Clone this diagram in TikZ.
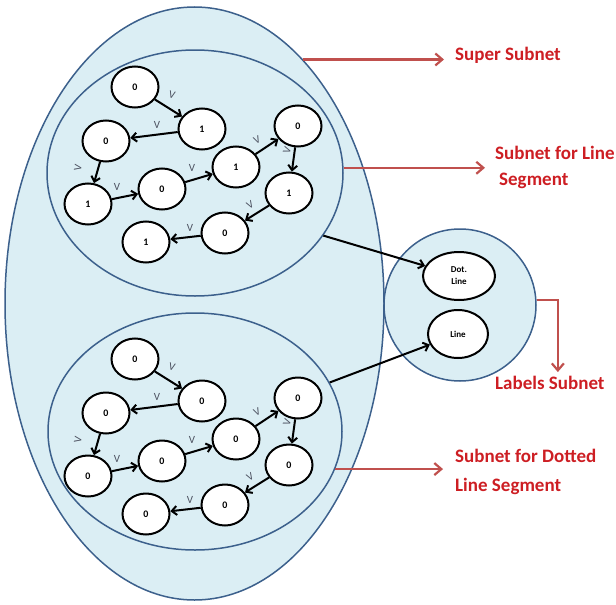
\documentclass[tikz,border=0pt]{standalone}
\usepackage{fontspec}
\setmainfont{Carlito}
\usetikzlibrary{arrows.meta,shapes.geometric}
\definecolor{netfill}{RGB}{219,238,244}
\definecolor{netedge}{RGB}{60,96,140}
\definecolor{notered}{RGB}{205,30,35}
\definecolor{notearrow}{RGB}{192,80,77}
\definecolor{vgray}{RGB}{75,80,95}
\tikzset{
  subnet/.style={ellipse, draw=netedge, fill=netfill, line width=1.5pt, inner sep=0pt},
  bit/.style={ellipse, draw=black, fill=white, line width=2pt, minimum width=47pt,
    minimum height=41pt, inner sep=0pt, font=\fontsize{10}{11}\selectfont\bfseries},
  link/.style={-{Straight Barb[length=5pt,width=9pt]}, line width=2pt},
  vlab/.style={text=vgray, font=\fontsize{11}{11}\selectfont, inner sep=0pt},
  note/.style={text=notered, font=\fontsize{19}{26}\selectfont\bfseries, align=left,
    anchor=west, inner sep=0pt},
  notearr/.style={-{Straight Barb[length=7pt,width=12pt]}, draw=notearrow, line width=2.2pt}
}
\begin{document}
\begin{tikzpicture}[x=1pt, y=-1pt]
  \useasboundingbox (0,0) rectangle (616,605);

  % subnets
  \node[subnet, minimum width=379pt, minimum height=593pt] (super) at (194.5,303.5) {};
  \node[subnet, minimum width=296pt, minimum height=246pt] (lineseg) at (195,173) {};
  \node[subnet, minimum width=294pt, minimum height=237pt] (dotseg) at (195,431.5) {};
  \node[subnet, circle, minimum size=152pt] (labels) at (460,305) {};

  \node[bit, minimum width=72pt, minimum height=48pt, align=center,
    font=\fontsize{9}{12}\selectfont\bfseries] (dotline) at (459,276) {Dot.\\Line};
  \node[bit, minimum width=60pt, minimum height=48pt,
    font=\fontsize{9}{12}\selectfont\bfseries] (line) at (458,334) {Line};

  % bit chains, top one alternates 0/1, bottom one all 0
  \foreach \net/\dy/\alt in {t/0/1, b/272/0} {
    \foreach \x/\y [count=\i] in {135/87, 202/129, 106/141, 88/204, 162/189,
        236/167, 298/126, 289/193, 225/233, 146/242} {
      \pgfmathtruncatemacro\bit{\alt*(1-mod(\i,2))}
      \node[bit] (\net\i) at (\x,\y+\dy) {\bit};
    }
    \foreach \j in {1,...,9} {
      \pgfmathtruncatemacro\k{\j+1}
      \draw[link] (\net\j) -- (\net\k);
    }
    \foreach \x/\y/\r [count=\i] in {172/95/-15, 157/125/0, 78/168/80, 117/187/0,
        192/168/0, 257/140/25, 287/150/70, 250/205/30, 190/228/0} {
      \node[vlab, rotate=\r] (\net v\i) at (\x,\y+\dy) {V};
    }
  }

  \draw[link] (lineseg.-26) -- (dotline);
  \draw[link] (dotseg.20) -- (line);

  % notes
  \node[note] (supnote) at (455,55) {Super Subnet};
  \node[note] (linenote) at (495,167) {Subnet for Line\\\hspace{4pt}Segment};
  \node[note] (lblnote) at (495,383) {Labels Subnet};
  \node[note] (dotnote) at (455,472) {Subnet for Dotted\\[3pt]Line Segment};

  \coordinate (supend) at ([xshift=-11pt]supnote.west);
  \coordinate (lineend) at ([xshift=-10pt]linenote.west);
  \coordinate (dotend) at ([xshift=-12pt]dotnote.west);
  \coordinate (lblend) at ([xshift=8pt, yshift=4pt]lblnote.north);

  \draw[notearr] (super.66) -- (super.66 -| supend);
  \draw[notearr] (lineseg.2) -- (lineseg.2 -| lineend);
  \draw[notearr] (dotseg.-15) -- (dotseg.-15 -| dotend);
  \draw[notearr] (labels.4) -| (lblend);
\end{tikzpicture}
\end{document}
